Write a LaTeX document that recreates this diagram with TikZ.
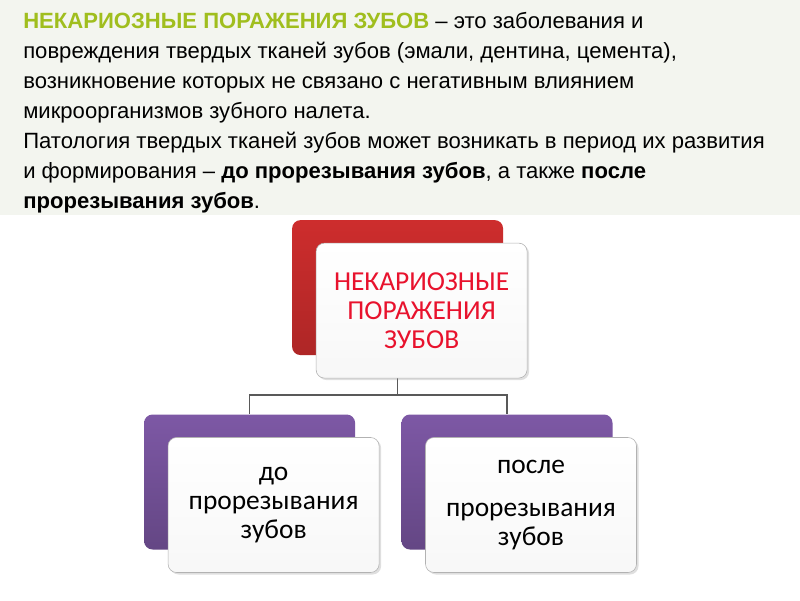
\documentclass[tikz,border=0pt]{standalone}
\usepackage{fontspec}
\setmainfont{Liberation Sans}
\newfontfamily\boxfont{Carlito}
\usetikzlibrary{positioning, shadows, backgrounds}
\definecolor{titlegreen}{RGB}{160,190,30}
\definecolor{boxred}{RGB}{205,45,45}
\definecolor{boxpurple}{RGB}{125,88,165}
\definecolor{labelred}{RGB}{232,18,45}
\definecolor{bandgray}{RGB}{243,245,239}
\tikzset {
    cardback/.style={rounded corners=6pt, minimum width=5.275cm, minimum height=3.375cm},
    redback/.style={cardback, top color=boxred, bottom color=boxred!85!black},
    purpleback/.style={cardback, top color=boxpurple, bottom color=boxpurple!80!black},
    cardfront/.style={draw=gray!60, rounded corners=6pt, top color=white, bottom color=gray!6,
        minimum width=5.275cm, minimum height=3.375cm, align=center,
        font=\boxfont\fontsize{19.5}{20.5}\selectfont,
        drop shadow={opacity=0.25, shadow xshift=0.05cm, shadow yshift=-0.05cm}},
    link/.style={draw=gray!70!black, line width=0.8pt}
}

\begin{document}
\begin{tikzpicture}
                        \useasboundingbox (0,0) rectangle (20,15);

                        \node[redback] (topb) at (9.94,7.81) {};
                        \node[purpleback] (leftb) at (6.24,2.95) {};
                        \node[purpleback] (rightb) at (12.675,2.95) {};

                        \node[cardfront, text=labelred] (topf) at ([shift={(0.6,-0.575)}]topb.center)
                            {НЕКАРИОЗНЫЕ\\ПОРАЖЕНИЯ\\ЗУБОВ};
                        \node[cardfront] (leftf) at ([shift={(0.6,-0.575)}]leftb.center)
                            {до\\прорезывания\\зубов};
                        \node[cardfront] (rightf) at ([shift={(0.6,-0.575)}]rightb.center)
                            {после\\[0.35cm]прорезывания\\зубов};

                        \node[anchor=north west, align=left, inner sep=0pt,
                            font=\fontsize{15.7}{21.3}\selectfont] (intro) at (0.575,14.7)
                            {{\color{titlegreen}\bfseries НЕКАРИОЗНЫЕ ПОРАЖЕНИЯ ЗУБОВ} -- это заболевания и\\
                            повреждения твердых тканей зубов (эмали, дентина, цемента),\\
                            возникновение которых не связано с негативным влиянием\\
                            микроорганизмов зубного налета.\\
                            Патология твердых тканей зубов может возникать в период их развития\\
                            и формирования -- \textbf{до прорезывания зубов}, а также \textbf{после}\\
                            \textbf{прорезывания зубов}.};

                        \coordinate (split) at (9.94,5.125);

                        \begin{scope}[on background layer]
                            \fill[white] (0,0) rectangle (20,15);
                            \fill[bandgray] (0,15) rectangle (20,9.625);
                            \draw[link] (topb.center) -- (split);
                            \draw[link] (split) -| (leftb.north);
                            \draw[link] (split) -| (rightb.north);
                        \end{scope}
                    \end{tikzpicture}
\end{document}
